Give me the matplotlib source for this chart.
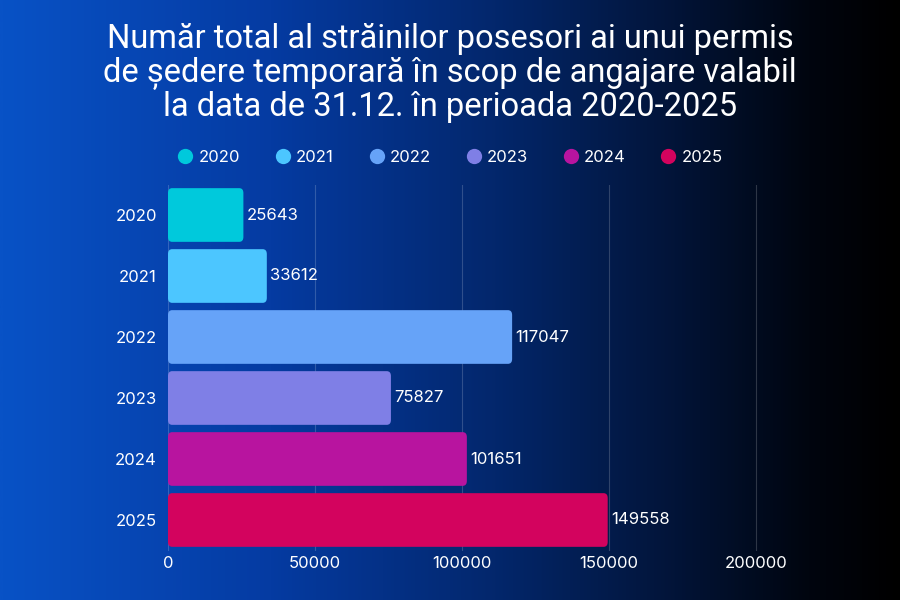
import numpy as np
import matplotlib
matplotlib.use("Agg")
import matplotlib.pyplot as plt
from matplotlib.colors import LinearSegmentedColormap
from matplotlib.lines import Line2D
from matplotlib.patches import FancyBboxPatch

years = ["2020", "2021", "2022", "2023", "2024", "2025"]
values = [25643, 33612, 117047, 75827, 101651, 149558]
colors = ["#00c9dc", "#4cc6ff", "#66a3f8", "#7f7fe6", "#b8149f", "#d3035e"]
xticks = [0, 50000, 100000, 150000, 200000]
title = ("Număr total al străinilor posesori ai unui permis\n"
         "de ședere temporară în scop de angajare valabil\n"
         "la data de 31.12. în perioada 2020-2025")

fig = plt.figure(figsize=(9, 6), dpi=100)

# background gradient
bg = fig.add_axes([0, 0, 1, 1], zorder=-10)
cmap = LinearSegmentedColormap.from_list(
    "bg",
    [(0.0, "#0852c6"), (0.3, "#053ba2"), (0.55, "#03276c"),
     (0.75, "#021438"), (0.9, "#00050f"), (1.0, "#000000")])
grad = np.linspace(0, 1, 512).reshape(1, -1)
bg.imshow(grad, aspect="auto", cmap=cmap, extent=[0, 1, 0, 1])
bg.axis("off")

tick_font = "Inter"
xmax = 205000
ax_w_px = (756 - 168) * xmax / 200000
ax = fig.add_axes([168 / 900, 1 - 550.5 / 600, ax_w_px / 900, (550.5 - 184.5) / 600])
ax.set_facecolor("none")

ypos = np.arange(len(years))
bars = ax.barh(ypos, values, height=0.88, color=colors, zorder=3)
ax.set_xlim(0, xmax)
ax.set_ylim(len(years) - 0.5, -0.5)

# rounded corners
for b in bars:
    b.set_visible(False)
    x0, y0 = b.get_x(), b.get_y()
    w, h = b.get_width(), b.get_height()
    p = FancyBboxPatch((x0, y0), w, h,
                       boxstyle="round,pad=0,rounding_size=1400",
                       mutation_aspect=1 / 1400 * 0.08,
                       facecolor=b.get_facecolor(), edgecolor="none", zorder=3)
    ax.add_patch(p)

for y, v in zip(ypos, values):
    ax.text(v + 1200, y, f"{v}", va="center", ha="left", color="white",
            fontsize=12, family=tick_font)

ax.set_xticks(xticks)
ax.set_xticklabels([str(t) for t in xticks])
ax.set_yticks(ypos)
ax.set_yticklabels(years)
ax.tick_params(axis="both", length=0, colors="white", labelsize=12)
ax.tick_params(axis="x", pad=4)
ax.tick_params(axis="y", pad=8)
for lab in ax.get_xticklabels() + ax.get_yticklabels():
    lab.set_family(tick_font)
ax.grid(axis="x", color="#ffffff", alpha=0.18, linewidth=0.8, zorder=0)
for s in ax.spines.values():
    s.set_visible(False)

fig.text(0.5, 1 - 73 / 600, title, ha="center", va="center", color="white",
         fontsize=23.5, family="Roboto", linespacing=1.06)

handles = [Line2D([], [], marker="o", linestyle="none", markersize=11,
                  markerfacecolor=c, markeredgecolor="none") for c in colors]
leg = fig.legend(handles, years, loc="center", bbox_to_anchor=(0.5, 1 - 157 / 600),
                 ncol=6, frameon=False, handletextpad=0.3, columnspacing=2.05,
                 handlelength=1.0, prop={"family": tick_font, "size": 12})
for t in leg.get_texts():
    t.set_color("white")

fig.savefig("out.png", dpi=100)
